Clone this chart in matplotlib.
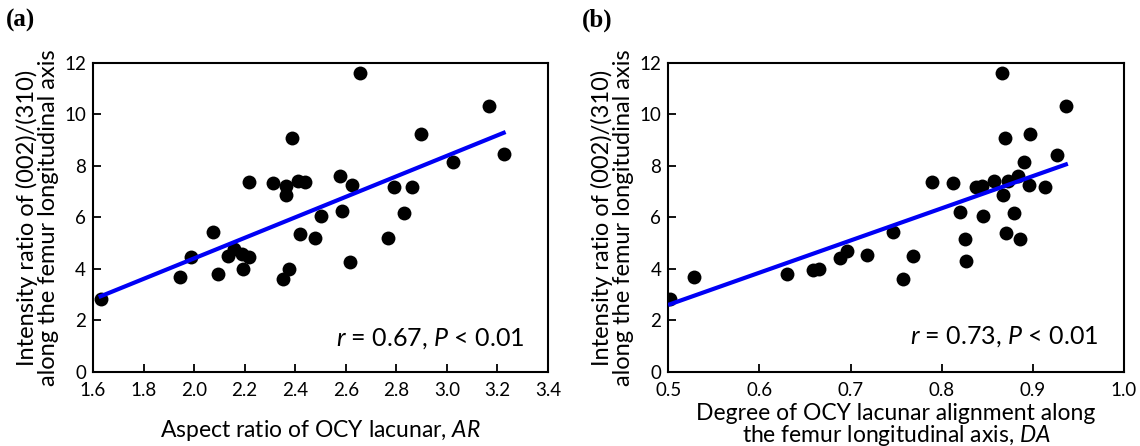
import matplotlib
matplotlib.use("Agg")
import matplotlib.pyplot as plt
import numpy as np

# ---- data: panel (a) ----
ar_x = [1.63, 1.945, 1.987, 2.076, 2.094, 2.133, 2.156, 2.189, 2.195, 2.219,
        2.217, 2.313, 2.350, 2.374, 2.364, 2.362, 2.389, 2.413, 2.437, 2.420,
        2.480, 2.503, 2.576, 2.585, 2.624, 2.618, 2.655, 2.767, 2.793, 2.830,
        2.862, 2.896, 3.026, 3.166, 3.225]
ar_y = [2.83, 3.70, 4.45, 5.44, 3.81, 4.52, 4.76, 4.57, 4.00, 4.48,
        7.38, 7.32, 3.60, 3.99, 7.22, 6.86, 9.10, 7.43, 7.39, 5.37,
        5.19, 6.07, 7.59, 6.26, 7.25, 4.28, 11.60, 5.19, 7.20, 6.19,
        7.17, 9.23, 8.16, 10.34, 8.45]
fit_a = [3.98, -3.55]          # slope, intercept
text_a = "$r$ = 0.67, $P$ < 0.01"
xlabel_a = "Aspect ratio of OCY lacunar, $AR$"
xticks_a = [1.6, 1.8, 2.0, 2.2, 2.4, 2.6, 2.8, 3.0, 3.2, 3.4]

# ---- data: panel (b) ----
da_x = [0.502, 0.5285, 0.6306, 0.659, 0.6658, 0.6885, 0.6965, 0.7185, 0.7463, 0.757,
        0.768, 0.789, 0.812, 0.820, 0.8257, 0.8268, 0.8378, 0.844, 0.8458, 0.8575,
        0.866, 0.867, 0.8696, 0.8707, 0.8732, 0.8798, 0.8842, 0.8861, 0.8904, 0.8952,
        0.8963, 0.9138, 0.927, 0.9362]
da_y = [2.82, 3.70, 3.79, 3.96, 3.99, 4.44, 4.70, 4.56, 5.42, 3.60,
        4.51, 7.39, 7.32, 6.23, 5.18, 4.29, 7.19, 7.23, 6.06, 7.42,
        11.61, 6.88, 9.09, 5.38, 7.40, 6.19, 7.62, 5.18, 8.16, 7.26,
        9.24, 7.19, 8.42, 10.34]
fit_b = [12.5, -3.645]
text_b = "$r$ = 0.73, $P$ < 0.01"
xlabel_b = "Degree of OCY lacunar alignment along\nthe femur longitudinal axis, $DA$"
xticks_b = [0.5, 0.6, 0.7, 0.8, 0.9, 1.0]

yticks = [0, 2, 4, 6, 8, 10, 12]
ylabel = "Intensity ratio of (002)/(310)\nalong the femur longitudinal axis"

plt.rcParams['font.family'] = ['Lato', 'DejaVu Sans']
plt.rcParams['mathtext.fontset'] = 'custom'
plt.rcParams['mathtext.it'] = 'Lato:italic'
plt.rcParams['mathtext.rm'] = 'Lato'

fig = plt.figure(figsize=(11.4, 4.46), dpi=100)
ax_a = fig.add_axes([0.0816, 0.166, 0.399, 0.693])
ax_b = fig.add_axes([0.5862, 0.166, 0.3998, 0.693])

def style(ax, xs, ys, fit, txt, xl, xticks, xlim, tx, ty, xfs, lp):
    ax.scatter(xs, ys, s=100, color='black', zorder=2, linewidths=0)
    xx = np.array([min(xs), max(xs)])
    ax.plot(xx, fit[0] * xx + fit[1], color='#0000F5', lw=3.0, zorder=3)
    ax.set_xlim(*xlim)
    ax.set_ylim(0, 12)
    ax.set_xticks(xticks)
    ax.set_xticklabels(["{:.1f}".format(v) for v in xticks])
    ax.set_yticks(yticks)
    ax.tick_params(direction='in', length=6, width=1.3, labelsize=13.5,
                   top=False, right=False)
    ax.tick_params(axis='x', pad=7)
    ax.tick_params(axis='y', pad=5)
    for sp in ax.spines.values():
        sp.set_linewidth(1.5)
    ax.set_ylabel(ylabel, fontsize=17, linespacing=1.0, labelpad=4)
    ax.set_xlabel(xl, fontsize=xfs, linespacing=0.95, labelpad=lp)
    ax.text(tx, ty, txt, transform=ax.transAxes, ha='right', va='center',
            fontsize=18)

style(ax_a, ar_x, ar_y, fit_a, text_a, xlabel_a, xticks_a, (1.6, 3.4),
      0.949, 0.107, 16.5, 14)
style(ax_b, da_x, da_y, fit_b, text_b, xlabel_b, xticks_b, (0.5, 1.0),
      0.943, 0.115, 16.5, 3)

fig.text(0.005, 0.955, "(a)", fontsize=18, fontweight='bold',
         family='Liberation Serif', va='center', ha='left')
fig.text(0.5105, 0.955, "(b)", fontsize=18, fontweight='bold',
         family='Liberation Serif', va='center', ha='left')

fig.savefig("out.png", dpi=100)
